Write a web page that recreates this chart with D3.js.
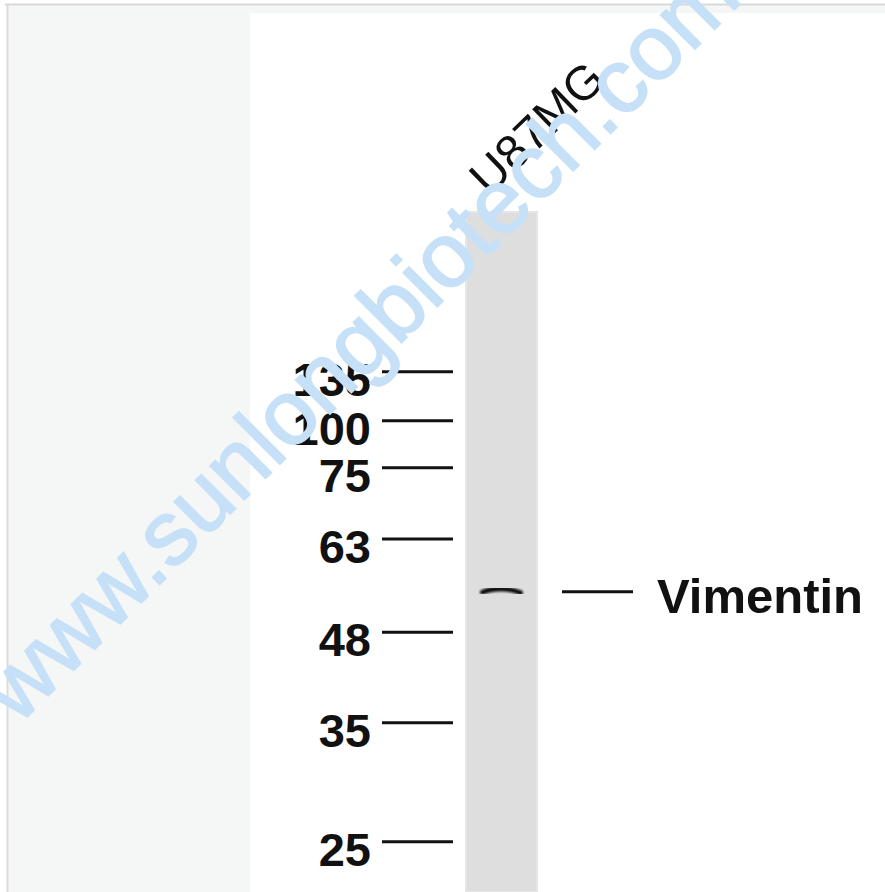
<!DOCTYPE html>
<html>
<head>
<meta charset="utf-8">
<script src="https://cdn.jsdelivr.net/npm/d3@7"></script>
<style>
  html, body { margin: 0; padding: 0; background: #fff; }
  text { font-family: "Liberation Sans", Arial, sans-serif; }
</style>
</head>
<body>
<svg id="blot"></svg>
<script>
// Ladder markers (kDa) and relative migration along the lane (0 = top of lane, 1 = bottom)
const markerKDa = [135, 100, 75, 63, 48, 35, 25];
const markerRf = [0.235, 0.307, 0.376, 0.481, 0.618, 0.751, 0.926];

// Sample lanes and detected bands
const lanes = ["U87MG"];
const bandLabels = ["Vimentin"];
const bandRf = [0.557];
const watermark = "www.sunlongbiotech.com";

const width = 885;
const height = 892;

const svg = d3.select("#blot").attr("width", width).attr("height", height);

// frame: outer grey line, pale panel, white plot area
svg.append("rect").attr("width", width).attr("height", height).attr("fill", "#fff");
svg.append("rect")
  .attr("x", 7).attr("y", 4).attr("width", width - 7).attr("height", height - 4)
  .attr("fill", "#f5f7f7");
svg.append("line")
  .attr("x1", 5).attr("x2", width).attr("y1", 4.5).attr("y2", 4.5)
  .attr("stroke", "#d9d9d9").attr("stroke-width", 2);
svg.append("line")
  .attr("x1", 7.5).attr("x2", 7.5).attr("y1", 4).attr("y2", height)
  .attr("stroke", "#dcdcdc").attr("stroke-width", 2);
svg.append("rect")
  .attr("x", 250).attr("y", 13).attr("width", width - 250).attr("height", height - 13)
  .attr("fill", "#fff");

// lane geometry
const laneTop = 212;
const laneBottom = 892;

const xLane = d3.scaleBand()
  .domain(lanes)
  .range([466, 537]);

const yRf = d3.scaleLinear()
  .domain([0, 1])
  .range([laneTop, laneBottom]);

// lane background
svg.selectAll(".lane")
  .data(lanes)
  .join("rect")
  .attr("class", "lane")
  .attr("x", (d) => xLane(d))
  .attr("y", laneTop)
  .attr("width", xLane.bandwidth())
  .attr("height", laneBottom - laneTop)
  .attr("fill", "#dedede")
  .attr("stroke", "#e6e6e6")
  .attr("stroke-width", 2);

// lane labels (rotated)
svg.selectAll(".laneLabel")
  .data(lanes)
  .join("text")
  .attr("class", "laneLabel")
  .attr("transform", (d) => `translate(${xLane(d) + 23},${laneTop - 15}) rotate(-44)`)
  .attr("font-size", 48)
  .attr("fill", "#111")
  .text((d) => d);

// ladder ticks and labels
const ladder = d3.zip(markerKDa, markerRf);

svg.selectAll(".markerLine")
  .data(ladder)
  .join("line")
  .attr("class", "markerLine")
  .attr("x1", 382).attr("x2", 453)
  .attr("y1", (d) => yRf(d[1]))
  .attr("y2", (d) => yRf(d[1]))
  .attr("stroke", "#111")
  .attr("stroke-width", 3);

svg.selectAll(".markerLabel")
  .data(ladder)
  .join("text")
  .attr("class", "markerLabel")
  .attr("x", 371)
  .attr("y", (d) => yRf(d[1]) + 24)
  .attr("text-anchor", "end")
  .attr("font-size", 47)
  .attr("font-weight", "bold")
  .attr("fill", "#111")
  .text((d) => d[0]);

// band blur
const defs = svg.append("defs");
defs.append("filter").attr("id", "soft")
  .append("feGaussianBlur").attr("stdDeviation", 1.1);

const bands = d3.zip(bandLabels, bandRf);
const bandX = xLane(lanes[0]) + xLane.bandwidth() / 2;

svg.selectAll(".band")
  .data(bands)
  .join("path")
  .attr("class", "band")
  .attr("d", (d) => {
    const y = yRf(d[1]);
    return d3.line().curve(d3.curveBasis)([
      [bandX - 19, y + 1.5],
      [bandX - 11, y - 1.5],
      [bandX, y - 2],
      [bandX + 11, y - 1],
      [bandX + 19, y + 2],
    ]);
  })
  .attr("fill", "none")
  .attr("stroke", "#111")
  .attr("stroke-width", 5)
  .attr("stroke-linecap", "round")
  .attr("filter", "url(#soft)");

svg.selectAll(".bandLine")
  .data(bands)
  .join("line")
  .attr("class", "bandLine")
  .attr("x1", 562).attr("x2", 633)
  .attr("y1", (d) => yRf(d[1]) + 1)
  .attr("y2", (d) => yRf(d[1]) + 1)
  .attr("stroke", "#111")
  .attr("stroke-width", 3);

svg.selectAll(".bandLabel")
  .data(bands)
  .join("text")
  .attr("class", "bandLabel")
  .attr("x", 657)
  .attr("y", (d) => yRf(d[1]) + 22)
  .attr("font-size", 49)
  .attr("font-weight", "bold")
  .attr("fill", "#111")
  .text((d) => d[0]);

// watermark on top
svg.append("text")
  .attr("transform", "translate(18,726) rotate(-45)")
  .attr("font-size", 91)
  .attr("fill", "#c6e0f8")
  .attr("stroke", "#c6e0f8")
  .attr("stroke-width", 1.8)
  .text(watermark);
</script>
</body>
</html>
